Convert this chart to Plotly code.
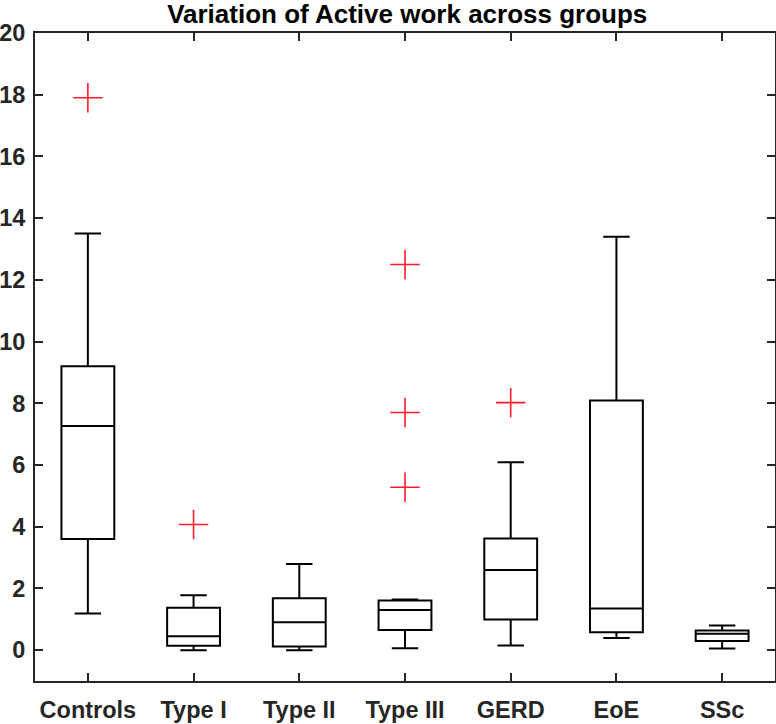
import plotly.graph_objects as go

groups = ["Controls", "Type I", "Type II", "Type III", "GERD", "EoE", "SSc"]
positions = [1, 2, 3, 4, 5, 6, 7]
q1 = [3.60, 0.14, 0.12, 0.65, 0.99, 0.58, 0.30]
median = [7.26, 0.45, 0.90, 1.30, 2.60, 1.35, 0.53]
q3 = [9.20, 1.37, 1.68, 1.61, 3.62, 8.09, 0.64]
lower_whisker = [1.19, 0.00, 0.00, 0.06, 0.15, 0.39, 0.05]
upper_whisker = [13.50, 1.78, 2.79, 1.64, 6.09, 13.40, 0.80]

outlier_pos = [1, 2, 4, 4, 4, 5]
outlier_val = [17.90, 4.07, 12.50, 7.70, 5.28, 8.02]

y_ticks = [0, 2, 4, 6, 8, 10, 12, 14, 16, 18, 20]

FONT = "Liberation Sans, Arial, Helvetica, sans-serif"
AX = "#262626"

fig = go.Figure()
fig.add_trace(go.Box(
    x=positions, q1=q1, median=median, q3=q3,
    lowerfence=lower_whisker, upperfence=upper_whisker,
    width=0.5, whiskerwidth=0.5,
    line=dict(color="black", width=2),
    fillcolor="rgba(255,255,255,0)",
    boxpoints=False, showlegend=False, hoverinfo="skip",
))
fig.add_trace(go.Scatter(
    x=outlier_pos, y=outlier_val, mode="markers",
    marker=dict(symbol="cross-thin", size=21, color="#ff1a2a",
                line=dict(color="#ff1a2a", width=1.6)),
    showlegend=False, hoverinfo="skip",
))

fig.update_layout(
    width=776, height=724,
    margin=dict(l=35, r=1, t=33, b=43, autoexpand=False),
    paper_bgcolor="white", plot_bgcolor="white",
    title=dict(text="Variation of Active work across groups",
               font=dict(family=FONT, size=26, color="black", weight="bold"),
               x=0.503, xanchor="center", xref="paper",
               y=1 - 13.5 / 724, yanchor="middle", yref="container",
               automargin=False),
    font=dict(family=FONT, size=23, color=AX, weight="bold"),
)
fig.update_xaxes(
    range=[0.5, 7.5], tickvals=positions, ticktext=groups,
    ticks="inside", ticklen=8, tickwidth=2, tickcolor=AX,
    showline=True, linewidth=2, linecolor=AX, mirror="ticks",
    showgrid=False, zeroline=False, automargin=False,
    tickfont=dict(family=FONT, size=23.5, color=AX, weight="bold"),
    ticklabelstandoff=7,
)
fig.update_yaxes(
    range=[-1, 20], tickvals=y_ticks,
    ticks="inside", ticklen=8, tickwidth=2, tickcolor=AX,
    showline=True, linewidth=2, linecolor=AX, mirror="ticks",
    showgrid=False, zeroline=False, automargin=False,
    tickfont=dict(family=FONT, size=23.5, color=AX, weight="bold"),
    ticklabelstandoff=3,
)

fig.write_html(
    "out.html",
    config={"displayModeBar": False},
    post_script="document.body.style.margin='0';document.body.style.overflow='hidden';",
)
